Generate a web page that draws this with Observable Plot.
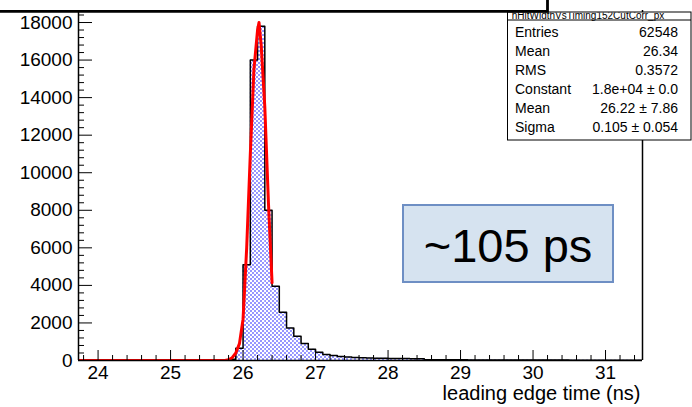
<!DOCTYPE html>
<html><head><meta charset="utf-8">
<script src="https://cdn.jsdelivr.net/npm/d3@7"></script>
<script src="https://cdn.jsdelivr.net/npm/@observablehq/plot@0.6"></script>
<style>body{margin:0;background:#fff;} svg{display:block}</style>
</head><body><div id="chart"></div>
<script>
// ---- data ----
const binStart = 23.7;   // left edge of first bin (ns)
const binWidth = 0.1;    // ns
const counts = [
  0,0,0,0,0,0,0,0,0,0,0,0,0,0,0,0,0,0,0,0,0,           // 23.7 .. 25.7
  60,650,5100,16000,17800,8000,3950,2570,1730,1290,      // 25.8 .. 26.7
  900,600,440,320,260,215,180,160,140,130,               // 26.8 .. 27.7
  120,115,110,105,100,95,90,                             // 27.8 .. 28.4
  45,42,40,38,36,35,33,32,30,29,                         // 28.5 .. 29.4
  28,27,26,25,24,23,22,21,20,20,                         // 29.5 .. 30.4
  19,18,18,17,16,16,15,15,14,14                          // 30.5 .. 31.4
];
const fitX = [23.73, 25.75, 25.8, 25.85, 25.9, 25.95, 26.0, 26.05, 26.1, 26.15, 26.2, 26.22, 26.25, 26.3, 26.35, 26.4];
const fitY = [0, 0, 40, 150, 400, 900, 2200, 6000, 11000, 15500, 17600, 18000, 16800, 13500, 8400, 4140];
const xMajor = [24, 25, 26, 27, 28, 29, 30, 31];
const yMajor = [0, 2000, 4000, 6000, 8000, 10000, 12000, 14000, 16000, 18000];
const xDomain = [23.73, 31.51];
const yDomain = [0, 18640];
const xLabel = "leading edge time (ns)";
const histTitle = "hHitWidthVsTiming152CutCorr_px";
const statLabels = ["Entries", "Mean", "RMS", "Constant", "Mean", "Sigma"];
const statValues = ["62548", "26.34", "0.3572", "1.8e+04 \u00b1 0.0", "26.22 \u00b1 7.86", "0.105 \u00b1 0.054"];
const note = "~105 ps";

// ---- derived tables ----
const bins = counts.map((c, i) => ({x1: binStart + i * binWidth, x2: binStart + (i + 1) * binWidth, y: c}));
const steps = bins.map(b => ({x: b.x1, y: b.y})).concat([{x: bins[bins.length - 1].x2, y: counts[counts.length - 1]}]);
const fit = fitX.map((x, i) => ({x, y: fitY[i]}));
const xMinor = d3.range(238, 315, 2).map(v => v / 10).filter(v => !xMajor.includes(v));
const yMinor = d3.range(0, 18601, 400).filter(v => !yMajor.includes(v));

const W = 692, H = 407, mL = 78, mR = 50, mT = 10, mB = 47;
const fw = W - mL - mR, fh = H - mT - mB;
const font = "Liberation Sans, Arial, Helvetica, sans-serif";

const svg = Plot.plot({
  width: W, height: H,
  marginLeft: mL, marginRight: mR, marginTop: mT, marginBottom: mB,
  style: {fontFamily: font, fontSize: "19px", color: "black", background: "white", overflow: "visible"},
  x: {domain: xDomain},
  y: {domain: yDomain},
  marks: [
    Plot.rectY(bins, {x1: "x1", x2: "x2", y: "y", fill: "url(#dots)", clip: true}),
    Plot.line(steps, {x: "x", y: "y", curve: "step-after", stroke: "black", strokeWidth: 1.5, clip: true}),
    Plot.line(fit, {x: "x", y: "y", stroke: "#ff0000", strokeWidth: 3, clip: true}),
    Plot.ruleX([xDomain[0], xDomain[1]], {stroke: "black", strokeWidth: 1.5}),
    Plot.ruleY([0], {stroke: "black", strokeWidth: 1.5}),
    Plot.tickX(xMajor, {x: d => d, insetTop: fh - 10, stroke: "black", strokeWidth: 1}),
    Plot.tickX(xMinor, {x: d => d, insetTop: fh - 5, stroke: "black", strokeWidth: 1}),
    Plot.tickY(yMajor, {y: d => d, insetRight: fw - 14, stroke: "black", strokeWidth: 1}),
    Plot.tickY(yMinor, {y: d => d, insetRight: fw - 6, stroke: "black", strokeWidth: 1}),
    Plot.axisX({ticks: xMajor, tickSize: 0, tickPadding: 5, tickFormat: d => String(d), fontSize: 19, label: null}),
    Plot.axisY({ticks: yMajor, tickSize: 0, tickPadding: 6, tickFormat: d => String(d), fontSize: 19, label: null}),
    Plot.text([xLabel], {frameAnchor: "bottom-right", text: d => d, textAnchor: "end", lineAnchor: "middle", dy: 33.5, dx: -2, fontSize: 20, fill: "black"})
  ]
});

const ns = "http://www.w3.org/2000/svg";
function el(tag, attrs, parent) {
  const e = document.createElementNS(ns, tag);
  for (const k in attrs) e.setAttribute(k, attrs[k]);
  (parent || svg).appendChild(e);
  return e;
}
// dotted fill pattern (ROOT style)
const defs = el("defs", {});
svg.insertBefore(defs, svg.firstChild);
const pat = el("pattern", {id: "dots", patternUnits: "userSpaceOnUse", width: 4, height: 4}, defs);
el("rect", {x: 0, y: 0, width: 4, height: 4, fill: "white"}, pat);
el("rect", {x: 0, y: 0, width: 2, height: 2, fill: "#9696ff"}, pat);
el("rect", {x: 2, y: 2, width: 2, height: 2, fill: "#9696ff"}, pat);
const cp = el("clipPath", {id: "titleclip"}, defs);
el("rect", {x: 500, y: 12.5, width: 200, height: 10}, cp);

// annotation box
el("rect", {x: 403, y: 205, width: 210, height: 77, fill: "#d6e3f0", stroke: "#6e8fc4", "stroke-width": 2});
const t = el("text", {x: 508, y: 262, "text-anchor": "middle", "font-family": font, "font-size": 47, fill: "black"});
t.textContent = note;

// stats box
el("rect", {x: 507.5, y: 12, width: 183.5, height: 128, fill: "white", stroke: "black", "stroke-width": 1});
el("line", {x1: 507.5, x2: 691, y1: 20, y2: 20, stroke: "black", "stroke-width": 1});
const tt = el("text", {x: 588, y: 18.5, "text-anchor": "middle", "font-family": font, "font-size": 10, fill: "black", "clip-path": "url(#titleclip)"});
tt.textContent = histTitle;
statLabels.forEach((s, i) => {
  const a = el("text", {x: 515, y: 37 + i * 19, "text-anchor": "start", "font-family": font, "font-size": 14, fill: "black"});
  a.textContent = s;
  const b = el("text", {x: 678, y: 37 + i * 19, "text-anchor": "end", "font-family": font, "font-size": 14, fill: "black"});
  b.textContent = statValues[i];
});
// thick top border line
el("path", {d: "M0,11.3 H547.5 V0", fill: "none", stroke: "black", "stroke-width": 2.8});

document.getElementById("chart").appendChild(svg);
</script>
</body></html>
